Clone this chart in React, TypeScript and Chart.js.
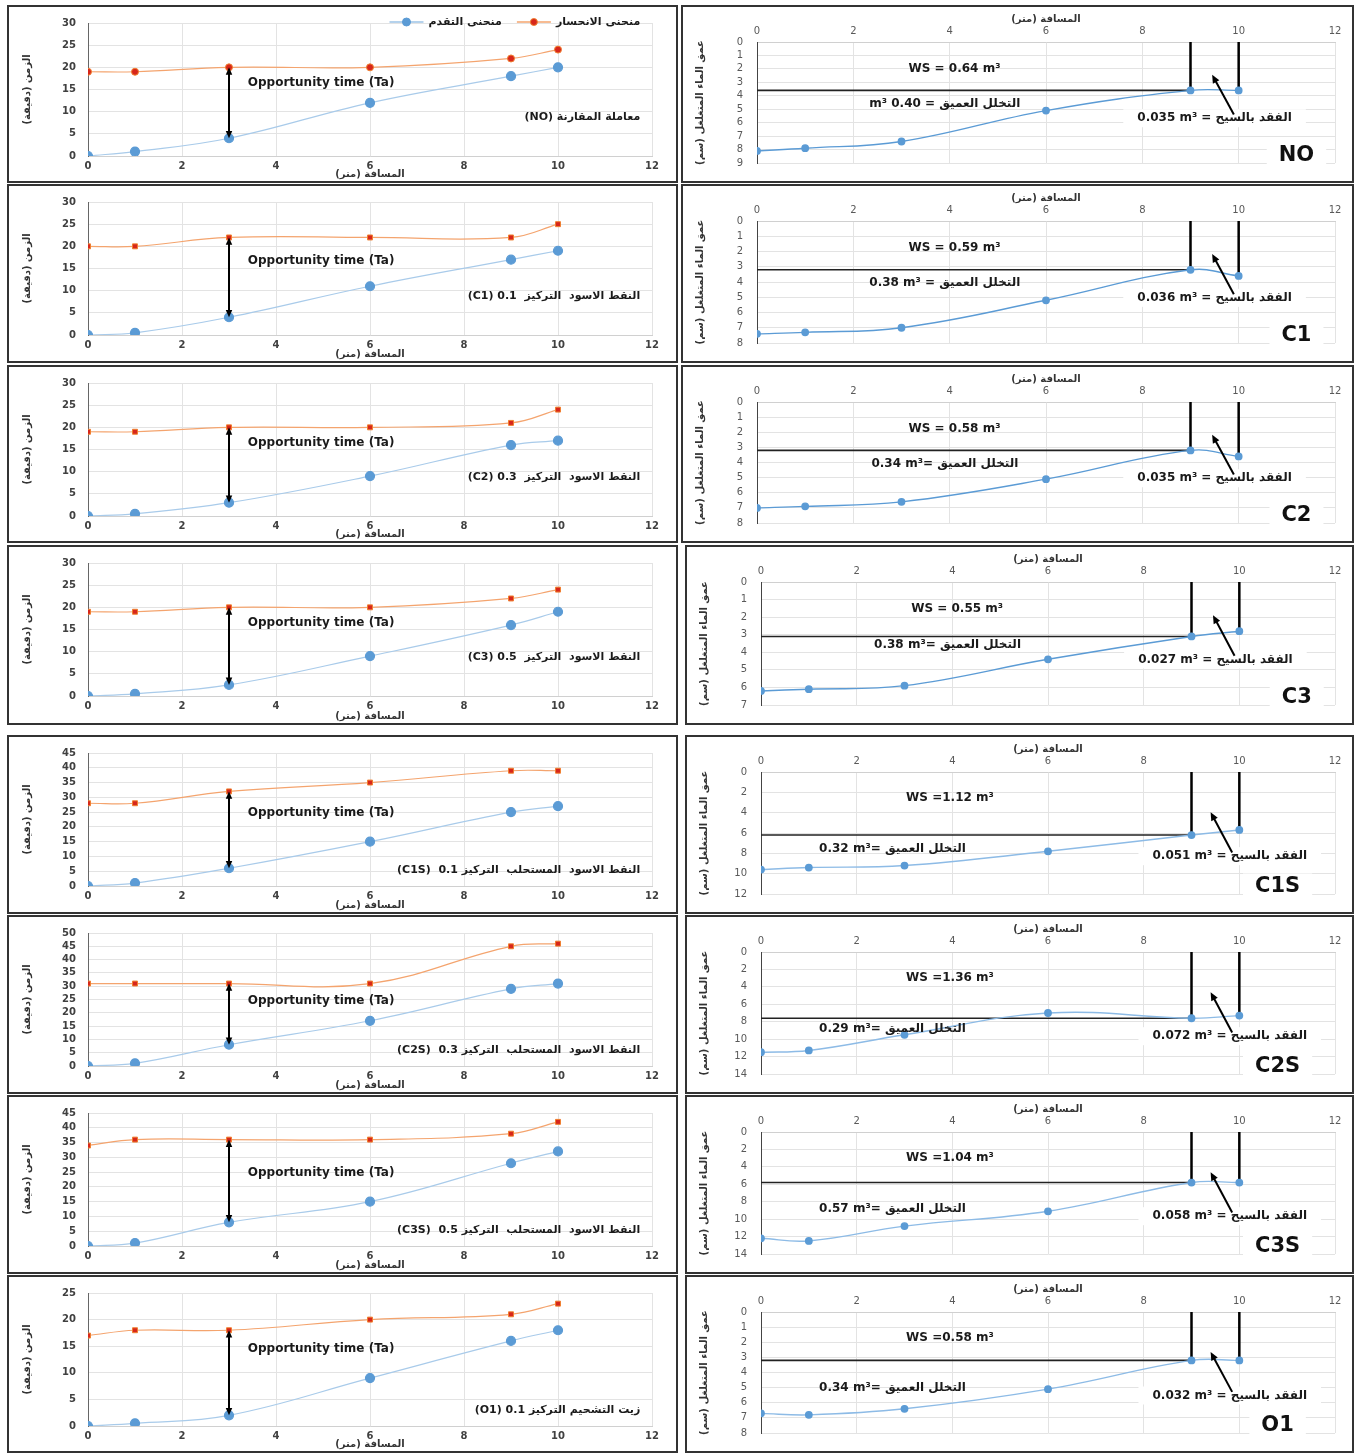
import React, { useEffect, useRef } from "react";
import { Chart, registerables } from "chart.js";

Chart.register(...registerables);
Chart.defaults.font.family = "'DejaVu Sans', sans-serif";

// ---------- DATA ----------
const distance = [0, 1, 3, 6, 9, 10];
const xTickMax = 12;

const advanceNO = [0, 1, 4, 12, 18, 20];
const recessionNO = [19, 19, 20, 20, 22, 24];
const advanceC1 = [0, 0.5, 4, 11, 17, 19];
const recessionC1 = [20, 20, 22, 22, 22, 25];
const advanceC2 = [0, 0.5, 3, 9, 16, 17];
const recessionC2 = [19, 19, 20, 20, 21, 24];
const advanceC3 = [0, 0.5, 2.5, 9, 16, 19];
const recessionC3 = [19, 19, 20, 20, 22, 24];
const advanceC1S = [0, 1, 6, 15, 25, 27];
const recessionC1S = [28, 28, 32, 35, 39, 39];
const advanceC2S = [0, 1, 8, 17, 29, 31];
const recessionC2S = [31, 31, 31, 31, 45, 46];
const advanceC3S = [0, 1, 8, 15, 28, 32];
const recessionC3S = [34, 36, 36, 36, 38, 42];
const advanceO1 = [0, 0.5, 2, 9, 16, 18];
const recessionO1 = [17, 18, 18, 20, 21, 23];

const timeAxisMax = [30, 30, 30, 30, 45, 50, 45, 25];

const depthNO = [8.1, 7.9, 7.4, 5.1, 3.6, 3.6];
const depthC1 = [7.4, 7.3, 7.0, 5.2, 3.2, 3.6];
const depthC2 = [7.0, 6.9, 6.6, 5.1, 3.2, 3.6];
const depthC3 = [6.2, 6.1, 5.9, 4.4, 3.1, 2.8];
const depthC1S = [9.6, 9.4, 9.2, 7.8, 6.2, 5.7];
const depthC2S = [11.5, 11.3, 9.5, 7.0, 7.6, 7.3];
const depthC3S = [12.2, 12.5, 10.8, 9.1, 5.8, 5.8];
const depthO1 = [6.7, 6.8, 6.4, 5.1, 3.2, 3.2];

const depthAxisMax = [9, 8, 8, 7, 12, 14, 14, 8];
const depthAxisStep = [1, 1, 1, 1, 2, 2, 2, 1];

const treatmentCodes = ["NO", "C1", "C2", "C3", "C1S", "C2S", "C3S", "O1"];
const treatmentLabels = [
  "(NO) معاملة المقارنة",
  "(C1) 0.1  النقط الاسود  التركيز",
  "(C2) 0.3  النقط الاسود  التركيز",
  "(C3) 0.5  النقط الاسود  التركيز",
  "(C1S)  0.1 النقط الاسود  المستحلب  التركيز",
  "(C2S)  0.3 النقط الاسود  المستحلب  التركيز",
  "(C3S)  0.5 النقط الاسود  المستحلب  التركيز",
  "(O1) 0.1 زيت التشحيم التركيز",
];
const wsLabels = [
  "WS = 0.64 m³",
  "WS = 0.59 m³",
  "WS = 0.58 m³",
  "WS = 0.55 m³",
  "WS =1.12 m³",
  "WS =1.36 m³",
  "WS =1.04 m³",
  "WS =0.58 m³",
];
const deepLabels = [
  "m³ 0.40 = التخلل العميق",
  "0.38 m³ = التخلل العميق",
  "0.34 m³= التخلل العميق",
  "0.38 m³= التخلل العميق",
  "0.32 m³= التخلل العميق",
  "0.29 m³= التخلل العميق",
  "0.57 m³= التخلل العميق",
  "0.34 m³= التخلل العميق",
];
const runoffLabels = [
  "0.035 m³ = الفقد بالسيح",
  "0.036 m³ = الفقد بالسيح",
  "0.035 m³ = الفقد بالسيح",
  "0.027 m³ = الفقد بالسيح",
  "0.051 m³ = الفقد بالسيح",
  "0.072 m³ = الفقد بالسيح",
  "0.058 m³ = الفقد بالسيح",
  "0.032 m³ = الفقد بالسيح",
];

const advanceSeries = [advanceNO, advanceC1, advanceC2, advanceC3, advanceC1S, advanceC2S, advanceC3S, advanceO1];
const recessionSeries = [recessionNO, recessionC1, recessionC2, recessionC3, recessionC1S, recessionC2S, recessionC3S, recessionO1];
const depthSeries = [depthNO, depthC1, depthC2, depthC3, depthC1S, depthC2S, depthC3S, depthO1];

const advanceName = "منحنى التقدم";
const recessionName = "منحنى الانحسار";
const distanceTitle = "المسافة (متر)";
const timeTitle = "الزمن (دقيقة)";
const depthTitle = "عمق الماء المتغلغل (سم)";
const opportunityText = "Opportunity time (Ta)";

// ---------- LAYOUT ----------
const rowTops = [5, 184, 365, 545, 735, 915, 1095, 1275];
const rowHeights = [178, 179, 178, 180, 179, 179, 179, 178];
const leftX = 7;
const leftW = 671;
const rightXs = [681, 681, 681, 685, 685, 685, 685, 685];
const rightWs = [673, 673, 673, 669, 669, 669, 669, 669];
// vertical placement (fraction from top of plot) of the "Opportunity time" note
const opportunityTextPos = [0.45, 0.44, 0.45, 0.45, 0.45, 0.51, 0.45, 0.42];

const FONT = "'DejaVu Sans', sans-serif";

function arrowHead(ctx: CanvasRenderingContext2D, x1: number, y1: number, x2: number, y2: number, size: number) {
  const a = Math.atan2(y2 - y1, x2 - x1);
  ctx.beginPath();
  ctx.moveTo(x2, y2);
  ctx.lineTo(x2 - size * Math.cos(a - 0.42), y2 - size * Math.sin(a - 0.42));
  ctx.lineTo(x2 - size * Math.cos(a + 0.42), y2 - size * Math.sin(a + 0.42));
  ctx.closePath();
  ctx.fill();
}

function LeftPanel({ idx }: { idx: number }) {
  const ref = useRef<HTMLCanvasElement>(null);
  const H = rowHeights[idx];
  useEffect(() => {
    const adv = advanceSeries[idx];
    const rec = recessionSeries[idx];
    const yMax = timeAxisMax[idx];
    const lower = idx >= 4;
    const decor = {
      id: "decorLeft",
      afterDatasetsDraw(chart: any) {
        const ctx: CanvasRenderingContext2D = chart.ctx;
        const xs = chart.scales.x;
        const ys = chart.scales.y;
        const area = chart.chartArea;
        ctx.save();
        // double arrow at 3rd station
        const ax = xs.getPixelForValue(distance[2]);
        const yTop = ys.getPixelForValue(rec[2]);
        const yBot = ys.getPixelForValue(adv[2]);
        ctx.strokeStyle = "#000";
        ctx.fillStyle = "#000";
        ctx.lineWidth = 2;
        ctx.beginPath();
        ctx.moveTo(ax, yTop + 6);
        ctx.lineTo(ax, yBot - 6);
        ctx.stroke();
        arrowHead(ctx, ax, yBot, ax, yTop, 8);
        arrowHead(ctx, ax, yTop, ax, yBot, 8);
        // opportunity text
        ctx.font = `bold 12px ${FONT}`;
        ctx.textAlign = "left";
        ctx.textBaseline = "middle";
        ctx.fillStyle = "#1a1a1a";
        ctx.fillText(opportunityText, xs.getPixelForValue(3.4), ys.getPixelForValue(yMax * (1 - opportunityTextPos[idx])));
        // treatment label
        ctx.font = `bold 11px ${FONT}`;
        ctx.textAlign = "right";
        const fy = lower ? 0.12 : 0.29;
        ctx.fillText(treatmentLabels[idx], xs.getPixelForValue(11.75), ys.getPixelForValue(yMax * fy));
        // legend (first panel only)
        if (idx === 0) {
          ctx.font = `bold 11px ${FONT}`;
          const ly = area.top - 1;
          let right = xs.getPixelForValue(11.75);
          const items = [
            { text: recessionName, line: "#F4A46E", fill: "#D7261B", border: "#F08030", r: 3.5 },
            { text: advanceName, line: "#9DC3E6", fill: "#5B9BD5", border: "#5B9BD5", r: 4 },
          ];
          for (const it of items) {
            const w = ctx.measureText(it.text).width;
            ctx.fillStyle = "#1a1a1a";
            ctx.textAlign = "right";
            ctx.fillText(it.text, right, ly);
            const lineR = right - w - 5;
            const lineL = lineR - 34;
            ctx.strokeStyle = it.line;
            ctx.lineWidth = 1.5;
            ctx.beginPath();
            ctx.moveTo(lineL, ly);
            ctx.lineTo(lineR, ly);
            ctx.stroke();
            ctx.beginPath();
            ctx.arc((lineL + lineR) / 2, ly, it.r, 0, Math.PI * 2);
            ctx.fillStyle = it.fill;
            ctx.fill();
            ctx.strokeStyle = it.border;
            ctx.lineWidth = 1;
            ctx.stroke();
            right = lineL - 15;
          }
        }
        ctx.restore();
      },
    };
    const chart = new Chart(ref.current as HTMLCanvasElement, {
      type: "line",
      data: {
        datasets: [
          {
            label: advanceName,
            data: distance.map((x, i) => ({ x, y: adv[i] })),
            borderColor: "#A9CBEA",
            borderWidth: 1.2,
            pointRadius: 4.5,
            pointBackgroundColor: "#5B9BD5",
            pointBorderColor: "#5B9BD5",
            tension: 0.4,
          },
          {
            label: recessionName,
            data: distance.map((x, i) => ({ x, y: rec[i] })),
            borderColor: "#F4A46E",
            borderWidth: 1.2,
            pointStyle: idx === 0 ? "circle" : "rect",
            pointRadius: 3.5,
            pointBackgroundColor: "#D7261B",
            pointBorderColor: "#F08030",
            pointBorderWidth: 1,
            tension: 0.4,
          },
        ],
      } as any,
      options: {
        responsive: false,
        animation: false,
        devicePixelRatio: 1,
        layout: { padding: { left: 10, right: 26, top: 16, bottom: 0 } },
        plugins: { legend: { display: false }, tooltip: { enabled: false } },
        scales: {
          x: {
            type: "linear",
            min: 0,
            max: xTickMax,
            ticks: { stepSize: 2, autoSkip: false, maxRotation: 0, padding: 4, color: "#404040", font: { size: 10, weight: "bold" } },
            grid: { color: "#E3E3E3", drawTicks: false },
            border: { color: "#D0D0D0" },
            title: {
              display: true,
              text: distanceTitle,
              color: "#333",
              font: { size: 10, weight: "bold" },
              padding: { top: 0, bottom: 3 },
            },
            afterFit: (s: any) => {
              s.height = H - 151;
            },
          },
          y: {
            type: "linear",
            min: 0,
            max: yMax,
            ticks: { stepSize: 5, autoSkip: false, padding: 12, color: "#404040", font: { size: 10, weight: "bold" } },
            grid: { color: "#E3E3E3", drawTicks: false },
            border: { color: "#666" },
            title: {
              display: true,
              text: timeTitle,
              color: "#333",
              font: { size: 10, weight: "bold" },
              padding: { top: 4, bottom: 4 },
            },
            afterFit: (s: any) => {
              s.width = 71;
            },
          },
        },
      } as any,
      plugins: [decor],
    });
    return () => chart.destroy();
  }, []);
  return (
    <div style={{ position: "absolute", left: leftX, top: rowTops[idx], width: leftW, height: H, background: "#fff" }}>
      <canvas ref={ref} width={leftW} height={H} style={{ width: leftW, height: H, display: "block" }} />
      <div style={{ position: "absolute", inset: 0, border: "2px solid #333", boxSizing: "border-box", pointerEvents: "none" }} />
    </div>
  );
}

function RightPanel({ idx }: { idx: number }) {
  const ref = useRef<HTMLCanvasElement>(null);
  const H = rowHeights[idx];
  const W = rightWs[idx];
  useEffect(() => {
    const depth = depthSeries[idx];
    const yMax = depthAxisMax[idx];
    const lower = idx >= 4;
    const pos = lower
      ? { wsX: 3.95, wsF: 0.21, deepX: 2.75, deepF: 0.63, lossX: 9.8, lossF: 0.69, tailX: 9.85, tailF: 0.66, headX: 9.4, headF: 0.33, nameX: 10.8 }
      : { wsX: 4.1, wsF: 0.22, deepX: 3.9, deepF: 0.51, lossX: 9.5, lossF: 0.63, tailX: 9.9, tailF: 0.6, headX: 9.45, headF: 0.27, nameX: 11.2 };
    const decor = {
      id: "decorRight",
      afterDatasetsDraw(chart: any) {
        const ctx: CanvasRenderingContext2D = chart.ctx;
        const xs = chart.scales.x;
        const ys = chart.scales.y;
        const py = (f: number) => ys.getPixelForValue(yMax * f);
        ctx.save();
        ctx.fillStyle = "#1a1a1a";
        ctx.textBaseline = "middle";
        ctx.textAlign = "center";
        ctx.font = `bold 12px ${FONT}`;
        ctx.fillText(wsLabels[idx], xs.getPixelForValue(pos.wsX), py(pos.wsF));
        ctx.fillText(deepLabels[idx], xs.getPixelForValue(pos.deepX), py(pos.deepF));
        // runoff label with white box
        const lx = xs.getPixelForValue(pos.lossX);
        const ly = py(pos.lossF);
        const lw = ctx.measureText(runoffLabels[idx]).width;
        ctx.fillStyle = "#fff";
        ctx.fillRect(lx - lw / 2 - 14, ly - 9, lw + 28, 18);
        ctx.fillStyle = "#1a1a1a";
        ctx.fillText(runoffLabels[idx], lx, ly);
        // arrow
        const tx = xs.getPixelForValue(pos.tailX);
        const ty = py(pos.tailF);
        const hx = xs.getPixelForValue(pos.headX);
        const hy = py(pos.headF);
        ctx.strokeStyle = "#000";
        ctx.fillStyle = "#000";
        ctx.lineWidth = 2;
        const a = Math.atan2(hy - ty, hx - tx);
        ctx.beginPath();
        ctx.moveTo(tx, ty);
        ctx.lineTo(hx - 6 * Math.cos(a), hy - 6 * Math.sin(a));
        ctx.stroke();
        arrowHead(ctx, tx, ty, hx, hy, 9);
        // name
        ctx.font = `bold 21px ${FONT}`;
        const nx = xs.getPixelForValue(pos.nameX);
        const ny = py(0.93);
        const nw = ctx.measureText(treatmentCodes[idx]).width;
        ctx.fillStyle = "#fff";
        ctx.fillRect(nx - nw / 2 - 12, ny - 12, nw + 24, 22);
        ctx.fillStyle = "#111";
        ctx.fillText(treatmentCodes[idx], nx, ny + 1);
        ctx.restore();
      },
    };
    const lineLevel = depth[4];
    const chart = new Chart(ref.current as HTMLCanvasElement, {
      type: "line",
      data: {
        datasets: [
          {
            label: "profile",
            data: distance.map((x, i) => ({ x, y: depth[i] })),
            borderColor: lower ? "#8DBBE6" : "#5B9BD5",
            borderWidth: 1.4,
            pointRadius: 3.2,
            pointBackgroundColor: "#5B9BD5",
            pointBorderColor: "#5B9BD5",
            tension: 0.4,
          },
          {
            label: "level",
            data: [
              { x: distance[0], y: lineLevel },
              { x: distance[4], y: lineLevel },
            ],
            borderColor: "#222",
            borderWidth: 1.6,
            pointRadius: 0,
            tension: 0,
          },
          {
            label: "edge1",
            data: [
              { x: distance[4], y: 0 },
              { x: distance[4], y: depth[4] },
            ],
            borderColor: "#000",
            borderWidth: 2.5,
            pointRadius: 0,
            tension: 0,
          },
          {
            label: "edge2",
            data: [
              { x: distance[5], y: 0 },
              { x: distance[5], y: depth[5] },
            ],
            borderColor: "#000",
            borderWidth: 2.5,
            pointRadius: 0,
            tension: 0,
          },
        ],
      } as any,
      options: {
        responsive: false,
        animation: false,
        devicePixelRatio: 1,
        layout: { padding: { left: 9, right: 19, top: 4, bottom: 5 } },
        plugins: { legend: { display: false }, tooltip: { enabled: false } },
        scales: {
          x: {
            type: "linear",
            position: "top",
            min: 0,
            max: xTickMax,
            ticks: { stepSize: 2, autoSkip: false, maxRotation: 0, padding: 5, color: "#595959", font: { size: 10 } },
            grid: { color: "#E3E3E3", drawTicks: false },
            border: { color: "#D0D0D0" },
            title: {
              display: true,
              text: distanceTitle,
              color: "#333",
              font: { size: 10, weight: "bold" },
              padding: { top: 4, bottom: 2 },
            },
            afterFit: (s: any) => {
              s.height = 33;
            },
          },
          y: {
            type: "linear",
            reverse: true,
            min: 0,
            max: yMax,
            ticks: { stepSize: depthAxisStep[idx], autoSkip: false, padding: 14, color: "#595959", font: { size: 10 } },
            grid: { color: "#E3E3E3", drawTicks: false },
            border: { color: "#444" },
            title: {
              display: true,
              text: depthTitle,
              color: "#333",
              font: { size: 10, weight: "bold" },
              padding: { top: 4, bottom: 4 },
            },
            afterFit: (s: any) => {
              s.width = 67;
            },
          },
        },
      } as any,
      plugins: [decor],
    });
    return () => chart.destroy();
  }, []);
  return (
    <div style={{ position: "absolute", left: rightXs[idx], top: rowTops[idx], width: W, height: H, background: "#fff" }}>
      <canvas ref={ref} width={W} height={H} style={{ width: W, height: H, display: "block" }} />
      <div style={{ position: "absolute", inset: 0, border: "2px solid #333", boxSizing: "border-box", pointerEvents: "none" }} />
    </div>
  );
}

export default function App() {
  return (
    <div style={{ position: "absolute", left: 0, top: 0, width: 1355, height: 1453, background: "#fff" }}>
      {treatmentCodes.map((c, i) => (
        <React.Fragment key={c}>
          <LeftPanel idx={i} />
          <RightPanel idx={i} />
        </React.Fragment>
      ))}
    </div>
  );
}
